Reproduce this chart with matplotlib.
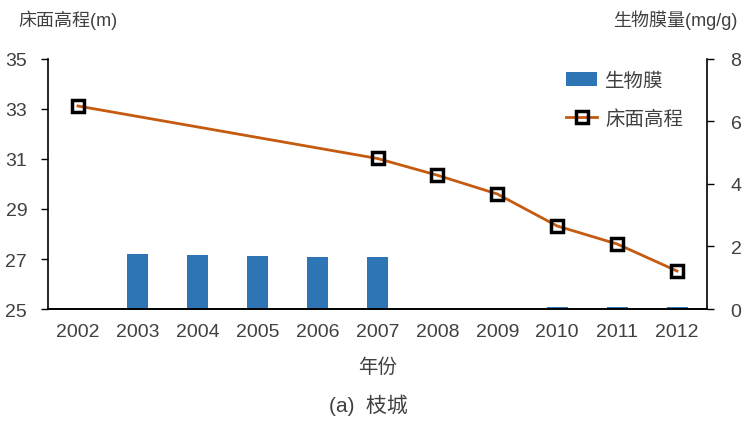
import matplotlib
matplotlib.use("Agg")
import matplotlib.pyplot as plt

years = ["2002", "2003", "2004", "2005", "2006", "2007", "2008", "2009", "2010", "2011", "2012"]
biofilm = [0.0, 1.77, 1.73, 1.70, 1.67, 1.67, 0.0, 0.0, 0.05, 0.05, 0.05]
elev_idx = [0, 5, 6, 7, 8, 9, 10]
elevation = [33.12, 31.02, 30.35, 29.6, 28.32, 27.6, 26.52]

fam = ["Liberation Sans", "Noto Sans CJK SC", "DejaVu Sans"]
plt.rcParams["font.family"] = fam

tc = "#404040"
fig = plt.figure(figsize=(7.55, 4.27), dpi=100)
ax = fig.add_axes([0.0636, 0.274, 0.8728, 0.5855])
ax2 = ax.twinx()

x = list(range(len(years)))
bars = ax2.bar(x, biofilm, width=0.35, color="#2E75B6", label="生物膜", zorder=1)
ax2.set_ylim(0, 8)
ax2.set_yticks([0, 2, 4, 6, 8])

ax.set_zorder(ax2.get_zorder() + 1)
ax.patch.set_visible(False)
line, = ax.plot(elev_idx, elevation, color="#C55A11", lw=2, marker="s", ms=8,
                mfc="none", mec="black", mew=2.5, label="床面高程")
ax.set_ylim(25, 35)
ax.set_yticks([25, 27, 29, 31, 33, 35])
ax.set_xlim(-0.5, len(years) - 0.5)
ax.set_xticks(x)
ax.set_xticklabels(years)

for a in (ax, ax2):
    a.spines["top"].set_visible(False)
    a.tick_params(labelsize=14, colors=tc, length=5, width=1)
    a.tick_params(axis="y", color="black")
    for s in a.spines.values():
        s.set_color("black")
        s.set_linewidth(1.2)
ax.tick_params(axis="x", length=0, pad=10)
ax2.spines["left"].set_visible(False)
ax.spines["right"].set_visible(False)
ax.tick_params(axis="y", direction="out", pad=10)
ax2.tick_params(axis="y", pad=12)

fig.text(18 / 755, 1 - 20 / 427, "床面高程(m)", fontsize=13, color=tc, ha="left", va="center")
fig.text(737 / 755, 1 - 20 / 427, "生物膜量(mg/g)", fontsize=13, color=tc, ha="right", va="center")
fig.text(378 / 755, 1 - 368 / 427, "年份", fontsize=14, color=tc, ha="center", va="center")
fig.text(368 / 755, 1 - 405 / 427, "(a)  枝城", fontsize=15, color=tc, ha="center", va="center")

leg = ax.legend([bars, line], ["生物膜", "床面高程"], loc="upper left",
                bbox_to_anchor=(0.76, 1.02), frameon=False, fontsize=14,
                handlelength=1.6, handletextpad=0.4, labelspacing=1.0)
for t in leg.get_texts():
    t.set_color(tc)

fig.savefig("out.png", dpi=100)
